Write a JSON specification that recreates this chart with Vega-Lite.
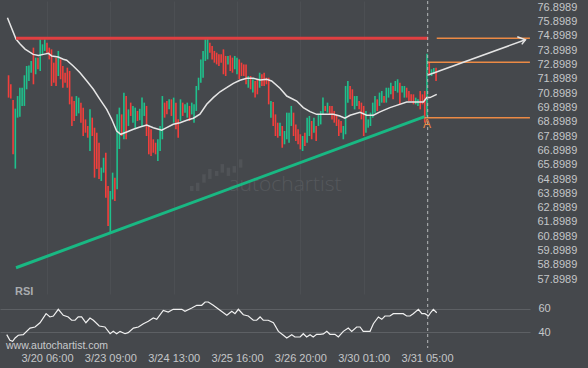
{
"$schema":"https://vega.github.io/schema/vega-lite/v6.json",
"background":"#45484c",
"padding":0,
"spacing":0,
"config":{"view":{"stroke":null},"font":"Liberation Sans","axis":{"labelOverlap":false,"labelBound":false}},
"resolve":{"scale":{"x":"independent","y":"independent"}},
"datasets":{
"c":[
{"t":3,"h":72.04,"l":70.48,"d":"d"},{"t":4,"h":71.41,"l":70.41,"d":"d"},{"t":5,"h":70.31,"l":66.52,"d":"d"},{"t":6,"h":69.71,"l":65.52,"d":"u"},{"t":7,"h":70.59,"l":69.08,"d":"u"},{"t":8,"h":71.17,"l":69.15,"d":"u"},{"t":9,"h":71.17,"l":69.9,"d":"u"},{"t":10,"h":72.04,"l":69.9,"d":"u"},{"t":11,"h":72.69,"l":71.06,"d":"u"},{"t":12,"h":72.73,"l":71.64,"d":"u"},{"t":13,"h":73.04,"l":72.22,"d":"u"},{"t":14,"h":73.97,"l":71.41,"d":"d"},{"t":15,"h":73.27,"l":72.11,"d":"u"},{"t":16,"h":73.27,"l":72.46,"d":"d"},{"t":17,"h":74.55,"l":72.34,"d":"u"},{"t":18,"h":74.2,"l":73.5,"d":"u"},{"t":19,"h":74.55,"l":73.74,"d":"u"},{"t":20,"h":74.32,"l":73.62,"d":"d"},{"t":21,"h":73.97,"l":73.15,"d":"d"},{"t":22,"h":73.85,"l":71.29,"d":"d"},{"t":23,"h":72.92,"l":71.52,"d":"d"},{"t":24,"h":73.27,"l":71.29,"d":"d"},{"t":25,"h":73.74,"l":71.99,"d":"u"},{"t":26,"h":73.15,"l":71.76,"d":"d"},{"t":27,"h":72.69,"l":71.17,"d":"d"},{"t":28,"h":72.22,"l":71.52,"d":"d"},{"t":29,"h":72.57,"l":71.17,"d":"d"},{"t":30,"h":72.34,"l":70.01,"d":"d"},{"t":31,"h":70.55,"l":68.5,"d":"d"},{"t":32,"h":70.24,"l":68.85,"d":"d"},{"t":33,"h":70.59,"l":69.2,"d":"u"},{"t":34,"h":70.48,"l":69.38,"d":"u"},{"t":35,"h":70.13,"l":68.73,"d":"d"},{"t":36,"h":69.78,"l":67.8,"d":"d"},{"t":37,"h":68.96,"l":68.03,"d":"d"},{"t":38,"h":68.5,"l":67.68,"d":"d"},{"t":39,"h":69.66,"l":66.75,"d":"u"},{"t":40,"h":69.08,"l":67.8,"d":"d"},{"t":41,"h":68.38,"l":64.89,"d":"d"},{"t":42,"h":68.03,"l":65.5,"d":"d"},{"t":43,"h":67.33,"l":64.8,"d":"d"},{"t":44,"h":65.59,"l":64.66,"d":"u"},{"t":45,"h":66.28,"l":65.24,"d":"u"},{"t":46,"h":66.63,"l":63.49,"d":"d"},{"t":47,"h":64.31,"l":61.52,"d":"d"},
{"t":48,"h":63.96,"l":61.05,"d":"u"},{"t":49,"h":65.24,"l":63.37,"d":"u"},{"t":50,"h":64.89,"l":63.26,"d":"d"},{"t":51,"h":69.31,"l":64.08,"d":"u"},{"t":52,"h":69.78,"l":66.89,"d":"u"},{"t":53,"h":69.31,"l":67.8,"d":"d"},{"t":54,"h":70.82,"l":67.57,"d":"u"},{"t":55,"h":70.59,"l":67.57,"d":"d"},{"t":56,"h":69.66,"l":68.5,"d":"u"},{"t":57,"h":70.13,"l":69.2,"d":"d"},{"t":58,"h":69.9,"l":68.73,"d":"u"},{"t":59,"h":69.78,"l":68.27,"d":"u"},{"t":60,"h":69.55,"l":68.85,"d":"d"},{"t":61,"h":69.7,"l":68.9,"d":"u"},{"t":62,"h":70.48,"l":68.5,"d":"u"},{"t":63,"h":70.13,"l":69.2,"d":"u"},{"t":64,"h":69.9,"l":67.8,"d":"d"},{"t":65,"h":68.5,"l":66.52,"d":"d"},{"t":66,"h":68.27,"l":66.4,"d":"d"},{"t":67,"h":67.57,"l":66.63,"d":"d"},{"t":68,"h":67.33,"l":66.52,"d":"d"},{"t":69,"h":67.57,"l":66.05,"d":"u"},{"t":70,"h":68.5,"l":66.75,"d":"u"},{"t":71,"h":70.59,"l":67.57,"d":"u"},{"t":72,"h":70.13,"l":69.08,"d":"d"},{"t":73,"h":70.24,"l":69.32,"d":"d"},{"t":74,"h":70.36,"l":69.66,"d":"u"},{"t":75,"h":70.36,"l":69.2,"d":"d"},{"t":76,"h":70.48,"l":68.73,"d":"u"},{"t":77,"h":70.13,"l":68.27,"d":"d"},{"t":78,"h":68.97,"l":67.68,"d":"d"},{"t":79,"h":70.36,"l":68.85,"d":"u"},{"t":80,"h":70.13,"l":69.2,"d":"d"},{"t":81,"h":70.01,"l":69.43,"d":"u"},{"t":82,"h":70.13,"l":69.08,"d":"u"},{"t":83,"h":69.9,"l":68.85,"d":"d"},{"t":84,"h":70.13,"l":69.31,"d":"u"},{"t":85,"h":70.01,"l":68.73,"d":"u"},{"t":86,"h":71.29,"l":69.55,"d":"u"},{"t":87,"h":71.87,"l":71.0,"d":"u"},{"t":88,"h":73.15,"l":71.52,"d":"u"},{"t":89,"h":73.74,"l":71.87,"d":"u"},{"t":90,"h":74.55,"l":73.04,"d":"u"},{"t":91,"h":74.57,"l":73.15,"d":"u"},{"t":92,"h":74.32,"l":73.62,"d":"d"},{"t":93,"h":74.08,"l":73.15,"d":"d"},{"t":94,"h":73.74,"l":72.92,"d":"d"},{"t":95,"h":73.62,"l":72.8,"d":"d"},{"t":96,"h":73.5,"l":72.69,"d":"d"},
{"t":97,"h":73.5,"l":72.92,"d":"d"},{"t":98,"h":73.85,"l":72.11,"d":"d"},{"t":99,"h":73.39,"l":71.99,"d":"d"},{"t":100,"h":73.39,"l":72.8,"d":"u"},{"t":101,"h":73.43,"l":72.34,"d":"d"},{"t":102,"h":73.27,"l":72.22,"d":"d"},{"t":103,"h":73.39,"l":72.46,"d":"u"},{"t":104,"h":73.27,"l":72.11,"d":"u"},{"t":105,"h":73.15,"l":71.76,"d":"d"},{"t":106,"h":72.92,"l":71.99,"d":"d"},{"t":107,"h":72.8,"l":71.99,"d":"d"},{"t":108,"h":72.8,"l":71.41,"d":"d"},{"t":109,"h":71.99,"l":71.17,"d":"u"},{"t":110,"h":71.99,"l":71.06,"d":"d"},{"t":111,"h":71.76,"l":70.83,"d":"u"},{"t":112,"h":71.64,"l":70.48,"d":"d"},{"t":113,"h":71.76,"l":70.71,"d":"d"},{"t":114,"h":72.22,"l":71.17,"d":"u"},{"t":115,"h":72.11,"l":71.29,"d":"d"},{"t":116,"h":72.22,"l":71.29,"d":"d"},{"t":117,"h":71.87,"l":71.41,"d":"d"},{"t":118,"h":71.87,"l":70.01,"d":"d"},{"t":119,"h":70.24,"l":69.08,"d":"u"},{"t":120,"h":70.17,"l":68.5,"d":"d"},{"t":121,"h":69.31,"l":67.8,"d":"d"},{"t":122,"h":68.73,"l":67.68,"d":"d"},{"t":123,"h":68.73,"l":67.8,"d":"u"},{"t":124,"h":68.5,"l":66.98,"d":"d"},{"t":125,"h":68.15,"l":67.22,"d":"u"},{"t":126,"h":69.43,"l":67.57,"d":"u"},{"t":127,"h":69.43,"l":67.33,"d":"u"},{"t":128,"h":69.9,"l":68.5,"d":"u"},{"t":129,"h":69.43,"l":67.8,"d":"d"},{"t":130,"h":68.61,"l":67.45,"d":"d"},{"t":131,"h":68.27,"l":67.22,"d":"d"},{"t":132,"h":67.92,"l":66.87,"d":"d"},{"t":133,"h":67.8,"l":66.75,"d":"u"},{"t":134,"h":68.03,"l":67.1,"d":"d"},{"t":135,"h":69.08,"l":67.33,"d":"u"},{"t":136,"h":69.2,"l":67.8,"d":"u"},{"t":137,"h":68.85,"l":67.57,"d":"d"},{"t":138,"h":69.08,"l":68.03,"d":"u"},{"t":139,"h":68.5,"l":67.45,"d":"d"},{"t":140,"h":69.31,"l":68.5,"d":"u"},{"t":141,"h":69.54,"l":68.61,"d":"u"},{"t":142,"h":70.48,"l":69.31,"d":"u"},{"t":143,"h":69.9,"l":69.54,"d":"d"},{"t":144,"h":70.13,"l":69.43,"d":"u"},{"t":145,"h":69.9,"l":69.31,"d":"d"},
{"t":146,"h":69.9,"l":68.96,"d":"d"},{"t":147,"h":69.55,"l":68.73,"d":"d"},{"t":148,"h":69.31,"l":68.5,"d":"d"},{"t":149,"h":68.96,"l":67.8,"d":"d"},{"t":150,"h":68.85,"l":68.03,"d":"d"},{"t":151,"h":68.5,"l":67.57,"d":"u"},{"t":152,"h":71.29,"l":67.92,"d":"u"},{"t":153,"h":71.64,"l":70.13,"d":"u"},{"t":154,"h":71.29,"l":70.36,"d":"d"},{"t":155,"h":71.06,"l":69.9,"d":"d"},{"t":156,"h":70.59,"l":69.66,"d":"u"},{"t":157,"h":70.59,"l":69.9,"d":"u"},{"t":158,"h":70.24,"l":69.66,"d":"d"},{"t":159,"h":70.13,"l":68.96,"d":"d"},{"t":160,"h":69.9,"l":67.8,"d":"d"},{"t":161,"h":69.55,"l":68.03,"d":"u"},{"t":162,"h":68.96,"l":68.38,"d":"u"},{"t":163,"h":69.43,"l":68.5,"d":"u"},{"t":164,"h":70.13,"l":69.08,"d":"u"},{"t":165,"h":70.59,"l":69.43,"d":"u"},{"t":166,"h":70.36,"l":69.54,"d":"d"},{"t":167,"h":70.83,"l":69.9,"d":"u"},{"t":168,"h":70.94,"l":70.13,"d":"u"},{"t":169,"h":70.59,"l":70.13,"d":"d"},{"t":170,"h":71.17,"l":70.13,"d":"u"},{"t":171,"h":71.17,"l":70.48,"d":"u"},{"t":172,"h":71.52,"l":70.71,"d":"u"},{"t":173,"h":71.29,"l":70.36,"d":"d"},{"t":174,"h":71.64,"l":70.94,"d":"u"},{"t":175,"h":71.76,"l":70.83,"d":"u"},{"t":176,"h":71.52,"l":70.01,"d":"d"},{"t":177,"h":71.29,"l":70.83,"d":"u"},{"t":178,"h":71.29,"l":70.48,"d":"u"},{"t":179,"h":71.17,"l":70.48,"d":"d"},{"t":180,"h":70.94,"l":70.24,"d":"d"},{"t":181,"h":70.71,"l":70.24,"d":"d"},{"t":182,"h":70.71,"l":70.01,"d":"d"},{"t":183,"h":70.48,"l":70.01,"d":"u"},{"t":184,"h":70.36,"l":69.9,"d":"u"},{"t":185,"h":70.94,"l":69.66,"d":"d"},{"t":186,"h":70.71,"l":70.01,"d":"d"},{"t":187,"h":70.94,"l":68.73,"d":"d"},{"t":188,"h":73.55,"l":69.15,"d":"u"},{"t":189,"h":72.97,"l":72.11,"d":"d"},{"t":190,"h":72.46,"l":71.99,"d":"u"},{"t":191,"h":72.55,"l":72.13,"d":"u"},{"t":192,"h":72.57,"l":71.64,"d":"d"}
],
"sma":[
{"t":2.5,"p":76.06},{"t":6.3,"p":74.57},{"t":8.1,"p":74.22},{"t":10.3,"p":73.87},{"t":13.9,"p":73.5},{"t":16.2,"p":73.43},{"t":18.4,"p":73.5},{"t":20.6,"p":73.57},{"t":22.1,"p":73.39},{"t":25,"p":73.32},{"t":27.2,"p":73.16},{"t":28.7,"p":73.09},{"t":31.6,"p":72.69},{"t":34.6,"p":72.22},{"t":37.6,"p":71.64},{"t":40.5,"p":71.06},{"t":43.4,"p":70.36},{"t":46.4,"p":69.66},{"t":48.6,"p":68.97},{"t":50.8,"p":68.15},{"t":52.6,"p":67.92},{"t":55.2,"p":68.08},{"t":58.2,"p":68.27},{"t":61.1,"p":68.43},{"t":64.1,"p":68.57},{"t":67,"p":68.38},{"t":70.7,"p":68.2},{"t":72.9,"p":68.38},{"t":75.8,"p":68.62},{"t":78.8,"p":68.73},{"t":81.8,"p":68.9},{"t":84.7,"p":69.04},{"t":87.6,"p":69.32},{"t":90.6,"p":70.01},{"t":93.5,"p":70.48},{"t":96.5,"p":70.89},{"t":99.4,"p":71.17},{"t":102.4,"p":71.48},{"t":105.3,"p":71.69},{"t":108.3,"p":71.83},{"t":111.2,"p":71.83},{"t":114.2,"p":71.71},{"t":117.1,"p":71.76},{"t":119.3,"p":71.64},{"t":123,"p":71.13},{"t":126,"p":70.59},{"t":130.4,"p":70.24},{"t":133.3,"p":69.78},{"t":136.3,"p":69.5},{"t":139.2,"p":69.31},{"t":143.7,"p":69.31},{"t":146.6,"p":69.31},{"t":149.5,"p":69.2},{"t":151.7,"p":69.04},{"t":154,"p":69.25},{"t":158.4,"p":69.45},{"t":161.3,"p":69.25},{"t":164.3,"p":69.25},{"t":167.2,"p":69.48},{"t":171.6,"p":69.78},{"t":174.6,"p":69.94},{"t":179,"p":70.17},{"t":183.4,"p":70.17},{"t":186.4,"p":70.17},{"t":187.9,"p":70.48},{"t":189.3,"p":70.48},{"t":192.3,"p":70.71}
],
"rsi":[
{"t":2.2,"r":38},{"t":3.6,"r":33.2},{"t":4.8,"r":32.4},{"t":5.9,"r":35.2},{"t":7.3,"r":37.5},{"t":9.5,"r":38},{"t":12.5,"r":43.6},{"t":14.7,"r":44.5},{"t":16.9,"r":48.1},{"t":19.6,"r":55.8},{"t":21.3,"r":53},{"t":22.8,"r":53.8},{"t":25,"r":59.5},{"t":27.2,"r":54.4},{"t":29.4,"r":53},{"t":30.9,"r":50.2},{"t":32.4,"r":50.2},{"t":33.8,"r":53},{"t":35.3,"r":53},{"t":37.2,"r":48.1},{"t":39,"r":52.1},{"t":40.5,"r":50.2},{"t":43.1,"r":45.3},{"t":45.6,"r":44.5},{"t":47.9,"r":38.8},{"t":49.3,"r":40.8},{"t":50.8,"r":38.8},{"t":52.3,"r":40.8},{"t":54.5,"r":38.8},{"t":55.9,"r":39.7},{"t":58.2,"r":43.6},{"t":60.4,"r":44.5},{"t":62.6,"r":47.3},{"t":64.8,"r":49.3},{"t":67,"r":52.1},{"t":68.5,"r":51},{"t":71.4,"r":58.6},{"t":73.6,"r":57.2},{"t":75.8,"r":59.5},{"t":79.6,"r":59.5},{"t":81,"r":57.8},{"t":84,"r":60.6},{"t":86.2,"r":62.9},{"t":88.4,"r":62.9},{"t":89.9,"r":65.7},{"t":91.3,"r":65.7},{"t":93.5,"r":62.9},{"t":96.5,"r":58.6},{"t":99.5,"r":54.4},{"t":101.7,"r":57.8},{"t":103.1,"r":55.8},{"t":104.6,"r":59.5},{"t":106.8,"r":54.9},{"t":109,"r":53.8},{"t":111.2,"r":50.2},{"t":112.7,"r":50.2},{"t":114.2,"r":53},{"t":115.6,"r":50.2},{"t":117.8,"r":50.2},{"t":120.1,"r":48.1},{"t":122.3,"r":40.8},{"t":124.5,"r":37.5},{"t":126,"r":35.2},{"t":128.2,"r":38},{"t":129.6,"r":36},{"t":131.9,"r":36},{"t":133.3,"r":38.8},{"t":134.8,"r":36},{"t":136.3,"r":38},{"t":137.7,"r":36},{"t":139.2,"r":38.3},{"t":140.7,"r":38.3},{"t":142.2,"r":38.6},{"t":143.7,"r":40.8},{"t":145.1,"r":38.3},{"t":147.3,"r":38.3},{"t":148.8,"r":36},{"t":151,"r":40.8},{"t":153.2,"r":43.6},{"t":154.7,"r":40.8},{"t":156.9,"r":44.5},{"t":158.4,"r":44.5},{"t":159.8,"r":40.8},{"t":162.8,"r":40.8},{"t":164.3,"r":47.3},{"t":166.5,"r":53},{"t":168,"r":51},{"t":169.4,"r":53.8},{"t":171.6,"r":53.8},{"t":173.1,"r":55.8},{"t":177.5,"r":55.8},{"t":179,"r":53.8},{"t":180.5,"r":53.8},{"t":181.9,"r":55.8},{"t":184.2,"r":59.5},{"t":185.7,"r":55.8},{"t":187.1,"r":55.8},{"t":188.6,"r":53.8},{"t":189.8,"r":57.2},{"t":190.8,"r":59.5},{"t":192.3,"r":56.6}
],
"ann":[
{"n":"red","t":6.3,"p":74.62,"o":1},{"n":"red","t":188.5,"p":74.62,"o":2},
{"n":"grn","t":6.3,"p":58.6,"o":1},{"n":"grn","t":186.9,"p":69.15,"o":2},
{"n":"arr","t":188.5,"p":72.06,"o":1},{"n":"arr","t":231.5,"p":74.52,"o":2},
{"n":"ah","t":227.9,"p":74.73,"o":1},{"n":"ah","t":231.5,"p":74.52,"o":2},{"n":"ah","t":229.9,"p":74.2,"o":3}
],
"lv":[
{"t":192.3,"t2":233.5,"p":74.62},{"t":188.5,"t2":233.5,"p":72.95},{"t":186.9,"t2":233.5,"p":69.08}
],
"logo":[
{"t":84.0,"l":63.96,"h":64.31},{"t":86.6,"l":63.96,"h":64.54},{"t":89.4,"l":64.54,"h":65.13},{"t":92.0,"l":64.8,"h":65.5},{"t":95.0,"l":65.01,"h":65.36},{"t":97.5,"l":65.24,"h":65.84},{"t":100.2,"l":65.01,"h":65.59},{"t":102.8,"l":65.24,"h":65.7},{"t":105.6,"l":65.59,"h":66.17}
]
},
"vconcat":[
{"width":530,"height":293,
"layer":[
{"data":{"name":"logo"},"mark":{"type":"rule","strokeWidth":3.5,"color":"#505357"},
"encoding":{
"x":{"field":"t","type":"quantitative","scale":{"domain":[-0.78,233.53],"nice":false,"zero":false},"axis":{"labels":false,"ticks":false,"domain":false,"grid":true,"gridColor":"#4c4f53","values":[20,48,76,104,132,160,188],"tickCount":20,"title":null}},
"y":{"field":"l","type":"quantitative","scale":{"domain":[56.766,77.227],"nice":false,"zero":false},"axis":{"orient":"right","values":[57.8989,58.8989,59.8989,60.8989,61.8989,62.8989,63.8989,64.8989,65.8989,66.8989,67.8989,68.8989,69.8989,70.8989,71.8989,72.8989,73.8989,74.8989,75.8989,76.8989],"tickCount":40,"format":".4f","labelColor":"#c4c6c8","labelFontSize":11,"labelFont":"Liberation Sans","ticks":false,"domain":false,"grid":false,"labelPadding":7,"title":null,"labelFlush":false,"labelOverlap":false,"minExtent":58,"labelOffset":1.5}},
"y2":{"field":"h"}}},
{"data":{"values":[{"t":125.2,"p":63.96,"s":"autochartist"}]},"mark":{"type":"text","font":"Open Sans","fontSize":21,"fontWeight":300,"color":"#55585c","align":"center","baseline":"alphabetic"},
"encoding":{"x":{"field":"t","type":"quantitative"},"y":{"field":"p","type":"quantitative"},"text":{"field":"s"}}},
{"data":{"name":"c"},"mark":{"type":"rule","strokeWidth":1.6},
"encoding":{"x":{"field":"t","type":"quantitative"},"y":{"field":"l","type":"quantitative"},"y2":{"field":"h"},
"color":{"field":"d","type":"nominal","scale":{"domain":["u","d"],"range":["#1fc08c","#f23f3c"]},"legend":null}}},
{"data":{"name":"sma"},"mark":{"type":"line","strokeWidth":1.5,"color":"#e6e6e6"},
"encoding":{"x":{"field":"t","type":"quantitative"},"y":{"field":"p","type":"quantitative"}}},
{"data":{"name":"ann"},"transform":[{"filter":"datum.n=='red'"}],"mark":{"type":"line","strokeWidth":3,"color":"#e03f41"},
"encoding":{"x":{"field":"t","type":"quantitative"},"y":{"field":"p","type":"quantitative"},"order":{"field":"o"}}},
{"data":{"name":"ann"},"transform":[{"filter":"datum.n=='grn'"}],"mark":{"type":"line","strokeWidth":3,"color":"#19b883"},
"encoding":{"x":{"field":"t","type":"quantitative"},"y":{"field":"p","type":"quantitative"},"order":{"field":"o"}}},
{"data":{"name":"lv"},"mark":{"type":"rule","strokeWidth":1.5,"color":"#ec8a45"},
"encoding":{"x":{"field":"t","type":"quantitative"},"x2":{"field":"t2"},"y":{"field":"p","type":"quantitative"}}},
{"data":{"name":"ann"},"transform":[{"filter":"datum.n=='arr' || datum.n=='ah'"}],"mark":{"type":"line","strokeWidth":1.5,"color":"#e4e4e4"},
"encoding":{"x":{"field":"t","type":"quantitative"},"y":{"field":"p","type":"quantitative"},"detail":{"field":"n"},"order":{"field":"o"}}},
{"data":{"values":[{"t":188.3}]},"mark":{"type":"rule","strokeWidth":1,"strokeDash":[3,3],"color":"#b5b8bb"},
"encoding":{"x":{"field":"t","type":"quantitative"}}},
{"data":{"values":[{"t":188,"p":68.64,"s":"A"}]},"mark":{"type":"text","fontSize":12,"color":"#ec8a45","align":"center","baseline":"middle"},
"encoding":{"x":{"field":"t","type":"quantitative"},"y":{"field":"p","type":"quantitative"},"text":{"field":"s"}}},
{"data":{"values":[{"t":5.85,"p":56.94,"s":"RSI"}]},"mark":{"type":"text","fontSize":11,"fontWeight":"bold","color":"#a9acaf","align":"left","baseline":"middle"},
"encoding":{"x":{"field":"t","type":"quantitative"},"y":{"field":"p","type":"quantitative"},"text":{"field":"s"}}}
]},
{"width":530,"height":50,
"layer":[
{"data":{"name":"rsi"},"mark":{"type":"line","strokeWidth":1.2,"color":"#f0f0f0"},
"encoding":{
"x":{"field":"t","type":"quantitative","scale":{"domain":[-0.78,233.53],"nice":false,"zero":false},"axis":{"orient":"bottom","values":[20,48,76,104,132,160,188],"tickCount":20,"labelExpr":"datum.value==20?'3/20 06:00':datum.value==48?'3/23 09:00':datum.value==76?'3/24 13:00':datum.value==104?'3/25 16:00':datum.value==132?'3/26 20:00':datum.value==160?'3/30 01:00':'3/31 05:00'","labelColor":"#c4c6c8","labelFontSize":11,"labelFont":"Liberation Sans","ticks":false,"domain":false,"grid":false,"labelPadding":4,"title":null,"labelFlush":false,"labelOverlap":false,"minExtent":22}},
"y":{"field":"r","type":"quantitative","scale":{"domain":[26.69,69.07],"nice":false,"zero":false},"axis":{"orient":"right","values":[40,60],"tickCount":5,"format":"d","labelColor":"#c4c6c8","labelFontSize":11,"labelFont":"Liberation Sans","ticks":false,"domain":false,"grid":true,"gridColor":"#5d6064","labelPadding":8,"title":null,"labelFlush":false,"minExtent":58}}}},
{"data":{"values":[{"t":188.3}]},"mark":{"type":"rule","strokeWidth":1,"strokeDash":[3,3],"color":"#b5b8bb"},
"encoding":{"x":{"field":"t","type":"quantitative"}}},
{"data":{"values":[{"t":1.87,"r":28.14,"s":"www.autochartist.com"}]},"mark":{"type":"text","fontSize":10.5,"color":"#c8cacc","align":"left","baseline":"middle"},
"encoding":{"x":{"field":"t","type":"quantitative"},"y":{"field":"r","type":"quantitative"},"text":{"field":"s"}}}
]}
]
}
